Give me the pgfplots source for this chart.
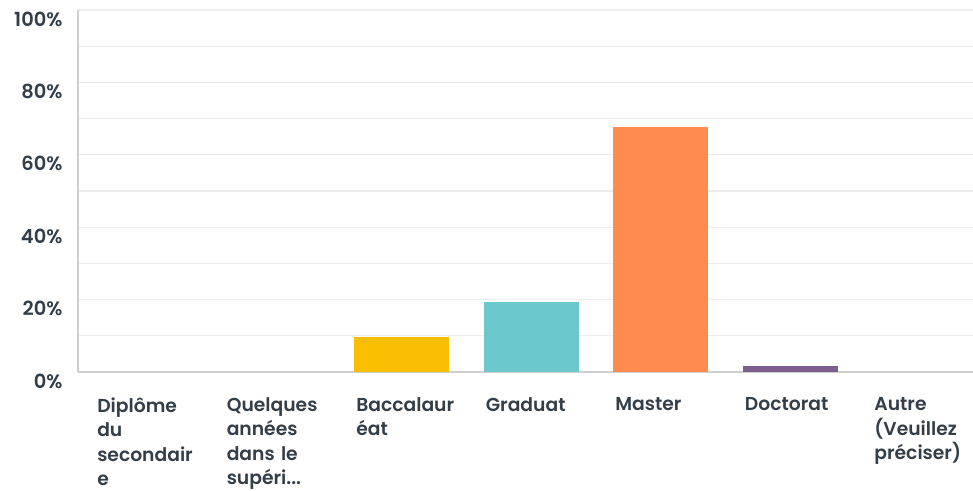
\documentclass[border=0pt]{standalone}
\usepackage{pgfplots}
\pgfplotsset{compat=1.18}
\usepackage{fontspec}
\setmainfont{Poppins}[BoldFont={Poppins SemiBold}]
\definecolor{txt}{HTML}{333E48}
\definecolor{axl}{HTML}{CFCFCF}
\definecolor{grd}{HTML}{EDEDED}
\definecolor{cA}{HTML}{F9BE00}
\definecolor{cB}{HTML}{6BC8CD}
\definecolor{cC}{HTML}{FF8B4F}
\definecolor{cD}{HTML}{7D5E90}
\begin{document}
\begin{tikzpicture}
\begin{axis}[name=a,
  scale only axis, width=895bp, height=362bp,
  xmin=-0.5, xmax=6.41, ymin=0, ymax=100,
  axis x line=bottom, axis y line=left,
  axis line style={-, draw=axl, line width=1.6bp},
  ybar, bar width=95bp, bar shift=0pt,
  xtick={0,1,2,3,4,5,6},
  xticklabels={{Diplôme\\du\\secondair\\e},{Quelques\\années\\dans le\\supéri{.}{.}{.}},{Baccalaur\\éat},{Graduat},{Master},{Doctorat},{Autre\\(Veuillez\\préciser)}},
  xticklabel style={anchor=north, text width=100bp, align=left, font=\fontsize{18.8}{24.6}\selectfont\bfseries, text=txt, yshift=-22bp, xshift=4.5bp},
  ytick={0,20,40,60,80,100},
  yticklabels={0\%,20\%,40\%,60\%,80\%,100\%},
  minor ytick={10,30,50,70,90},
  yticklabel style={font=\fontsize{19.5}{20}\selectfont\bfseries, text=txt, anchor=east, yshift=-9bp, xshift=-12bp},
  major tick length=0pt, minor tick length=0pt,
  ymajorgrids, yminorgrids,
  major grid style={draw=grd, line width=1.2bp},
  minor grid style={draw=grd, line width=1.2bp},
]
\addplot[fill=cA, draw=none] coordinates {(2,9.7)};
\addplot[fill=cB, draw=none] coordinates {(3,19.4)};
\addplot[fill=cC, draw=none] coordinates {(4,67.7)};
\addplot[fill=cD, draw=none] coordinates {(5,1.6)};
\end{axis}
\pgfresetboundingbox
\path[use as bounding box] ([xshift=-78bp,yshift=10bp]a.north west) rectangle ++(973bp,-491bp);
\end{tikzpicture}
\end{document}
